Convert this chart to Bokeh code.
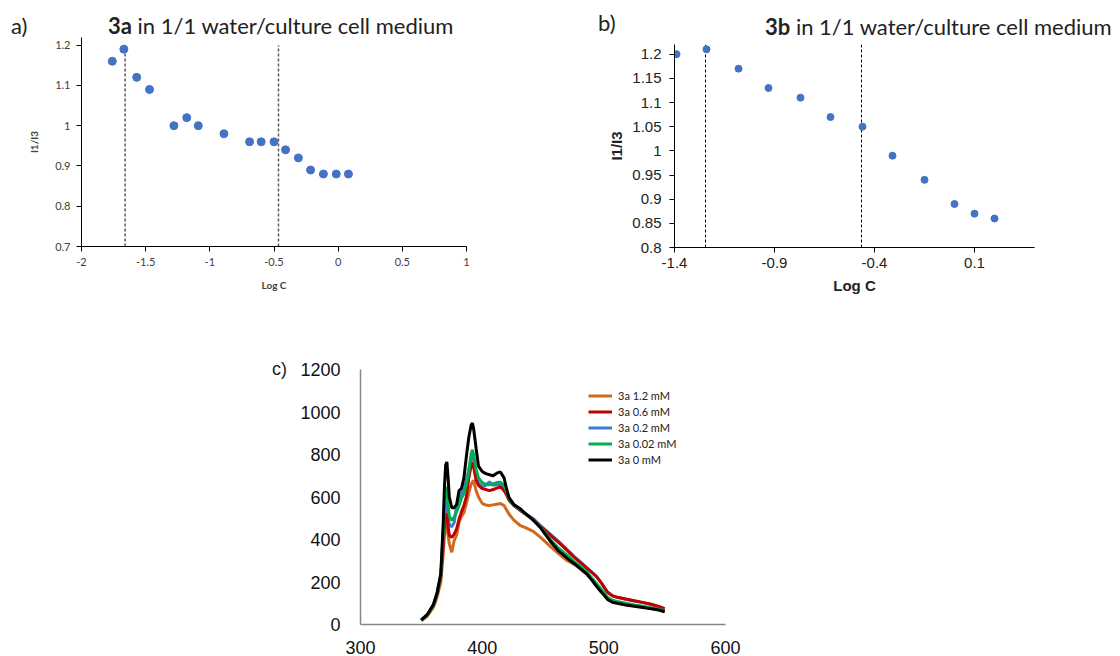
from bokeh.plotting import figure
from bokeh.layouts import column, row
from bokeh.models import Range1d, FixedTicker, CustomJSTickFormatter, Legend, LegendItem, Div
from bokeh.embed import file_html
from bokeh.resources import INLINE

# ---------------- data ----------------
# panel a: 3a, I1/I3 vs log C
a_logc = [-1.76, -1.67, -1.57, -1.47, -1.28, -1.18, -1.09, -0.89, -0.69, -0.60, -0.50,
          -0.41, -0.31, -0.215, -0.115, -0.015, 0.08]
a_ratio = [1.16, 1.19, 1.12, 1.09, 1.00, 1.02, 1.00, 0.98, 0.96, 0.96, 0.96,
           0.94, 0.92, 0.89, 0.88, 0.88, 0.88]
a_breaks = [-1.66, -0.465]
a_xticks = [-2, -1.5, -1, -0.5, 0, 0.5, 1]
a_yticks = [0.7, 0.8, 0.9, 1.0, 1.1, 1.2]

# panel b: 3b, I1/I3 vs log C
b_logc = [-1.39, -1.24, -1.08, -0.93, -0.77, -0.62, -0.46, -0.31, -0.15, 0.0, 0.1, 0.2]
b_ratio = [1.20, 1.21, 1.17, 1.13, 1.11, 1.07, 1.05, 0.99, 0.94, 0.89, 0.87, 0.86]
b_breaks = [-1.245, -0.465]
b_xticks = [-1.4, -0.9, -0.4, 0.1]
b_yticks = [0.8, 0.85, 0.9, 0.95, 1.0, 1.05, 1.1, 1.15, 1.2]

# panel c: emission spectra
wl = [350, 355, 360, 363, 366, 368, 369, 370, 371, 372, 373, 375, 377, 379, 381, 383, 385, 387,
      389, 391, 392, 393, 395, 397, 400, 403, 406, 409, 412, 415, 418, 420, 422, 426, 431, 436,
      442, 448, 456, 463, 470, 476, 481, 486, 490, 494, 498, 500, 503, 507, 511, 518, 525, 532,
      539, 545, 550]
i_12 = [18, 40, 82, 130, 200, 330, 420, 465, 470, 420, 380, 340, 395, 420, 480, 510, 525, 570,
        620, 660, 672, 678, 630, 600, 570, 562, 560, 563, 566, 569, 560, 540, 520, 491, 467, 455,
        438, 410, 368, 332, 300, 282, 260, 236, 212, 183, 155, 143, 122, 108, 103, 95, 88, 82,
        76, 70, 62]
i_06 = [20, 45, 90, 145, 225, 380, 470, 515, 520, 460, 420, 410, 425, 450, 495, 530, 560, 600,
        690, 750, 762, 740, 680, 655, 640, 635, 630, 635, 642, 648, 630, 610, 585, 560, 538, 518,
        494, 460, 420, 385, 348, 315, 290, 265, 245, 225, 195, 177, 152, 135, 128, 120, 112, 104,
        95, 85, 75]
i_02 = [20, 45, 90, 145, 228, 400, 520, 570, 575, 510, 470, 460, 480, 560, 600, 620, 630, 680,
        730, 785, 795, 770, 705, 665, 650, 655, 672, 655, 658, 660, 640, 615, 590, 562, 540, 520,
        498, 465, 425, 390, 352, 318, 293, 268, 248, 226, 196, 178, 153, 136, 128, 119, 111, 103,
        94, 84, 74]
i_002 = [21, 46, 92, 148, 232, 430, 580, 640, 645, 560, 510, 490, 505, 530, 560, 595, 615, 660,
         720, 805, 822, 800, 730, 690, 668, 660, 658, 662, 668, 670, 655, 628, 593, 563, 542, 520,
         493, 458, 400, 358, 325, 295, 272, 246, 220, 193, 165, 152, 128, 114, 108, 100, 92, 86,
         78, 72, 65]
i_0 = [22, 48, 95, 150, 240, 480, 650, 750, 765, 690, 600, 550, 550, 565, 630, 640, 690, 790,
       880, 940, 948, 920, 830, 745, 720, 710, 705, 700, 712, 718, 690, 640, 598, 565, 546, 520,
       491, 455, 392, 345, 311, 285, 262, 238, 210, 180, 152, 140, 118, 105, 100, 92, 86, 80,
       74, 68, 60]
c_labels = ["3a 1.2 mM", "3a 0.6 mM", "3a 0.2 mM", "3a 0.02 mM", "3a 0 mM"]
c_colors = ["#D2691E", "#C00000", "#3B7DD8", "#00B050", "#000000"]
c_xticks = [300, 400, 500, 600]
c_yticks = [0, 200, 400, 600, 800, 1000, 1200]

fmt = CustomJSTickFormatter(code="return String(Math.round(tick*100)/100);")
DOT = "#4472C4"


def span(text, left, top, size, font, extra=""):
    return (f'<span style="position:absolute;left:{left}px;top:{top}px;font-size:{size}px;'
            f'line-height:{size}px;font-family:\'{font}\';color:#222222;white-space:nowrap;{extra}">'
            f'{text}</span>')


def header(width, height, spans):
    html = (f'<div style="position:relative;width:{width}px;height:{height}px;">'
            + "".join(spans) + '</div>')
    return Div(text=html, width=width, height=height, margin=0)


# ---------------- panel a ----------------
pa = figure(width=560, height=283, x_range=Range1d(-2, 1), y_range=Range1d(0.7, 1.219),
            output_backend="svg", toolbar_location=None,
            min_border_left=81, min_border_right=94, min_border_top=0, min_border_bottom=74)
pa.outline_line_color = None
pa.grid.visible = False
pa.segment(x0=a_breaks, x1=a_breaks, y0=[0.7] * 2, y1=[1.2] * 2,
           line_color="#595959", line_dash="3 2", line_width=1.5)
pa.scatter(a_logc, a_ratio, size=8, color=DOT)
for ax in (pa.xaxis[0], pa.yaxis[0]):
    ax.axis_line_color = "#000000"
    ax.major_tick_line_color = "#000000"
    ax.minor_tick_line_color = None
    ax.major_tick_in = 0
    ax.major_tick_out = 5
    ax.major_label_text_font = "Lato"
    ax.major_label_text_font_size = "11px"
    ax.major_label_text_color = "#404040"
    ax.axis_label_text_font = "Lato"
    ax.axis_label_text_font_style = "bold"
    ax.axis_label_text_font_size = "10px"
    ax.axis_label_text_color = "#404040"
    ax.formatter = fmt
pa.xaxis.ticker = FixedTicker(ticks=a_xticks)
pa.yaxis.ticker = FixedTicker(ticks=a_yticks)
pa.xaxis.axis_label = "Log C"
pa.yaxis.axis_label = "I1/I3"
pa.xaxis.major_label_standoff = 6
pa.yaxis.major_label_standoff = 6
pa.xaxis.axis_label_standoff = 10
pa.yaxis.axis_label_standoff = 12
head_a = header(560, 37, [
    span("a)", 11, 15, 22, "Lato"),
    span("<b>3a</b> in 1/1 water/culture cell medium", 108, 15, 22, "Lato"),
])

# ---------------- panel b ----------------
pb = figure(width=560, height=276, x_range=Range1d(-1.4, 0.4), y_range=Range1d(0.8, 1.22),
            output_backend="svg", toolbar_location=None,
            min_border_left=114, min_border_right=86, min_border_top=0, min_border_bottom=73)
pb.outline_line_color = None
pb.grid.visible = False
pb.segment(x0=b_breaks, x1=b_breaks, y0=[0.8] * 2, y1=[1.22] * 2,
           line_color="#000000", line_dash="3 2", line_width=1)
pb.scatter(b_logc, b_ratio, size=7, color=DOT)
for ax in (pb.xaxis[0], pb.yaxis[0]):
    ax.axis_line_color = "#000000"
    ax.major_tick_line_color = "#000000"
    ax.minor_tick_line_color = None
    ax.major_tick_in = 0
    ax.major_tick_out = 5
    ax.major_label_text_font = "Liberation Sans"
    ax.major_label_text_font_size = "15px"
    ax.major_label_text_color = "#222222"
    ax.axis_label_text_font = "Liberation Sans"
    ax.axis_label_text_font_style = "bold"
    ax.axis_label_text_font_size = "15px"
    ax.axis_label_text_color = "#222222"
    ax.formatter = fmt
pb.xaxis.ticker = FixedTicker(ticks=b_xticks)
pb.yaxis.ticker = FixedTicker(ticks=b_yticks)
pb.xaxis.axis_label = "Log C"
pb.yaxis.axis_label = "I1/I3"
pb.xaxis.major_label_standoff = 5
pb.yaxis.major_label_standoff = 8
pb.xaxis.axis_label_standoff = 6
pb.yaxis.axis_label_standoff = 4
head_b = header(560, 44, [
    span("b)", 38, 12, 22, "Lato"),
    span("<b>3b</b> in 1/1 water/culture cell medium", 205, 16, 22, "Lato"),
])

# ---------------- panel c ----------------
pc = figure(width=830, height=336, x_range=Range1d(300, 600), y_range=Range1d(0, 1200),
            output_backend="svg", toolbar_location=None,
            min_border_left=70, min_border_right=395, min_border_top=49, min_border_bottom=32)
pc.outline_line_color = None
pc.grid.visible = False
series = [i_12, i_06, i_02, i_002, i_0]
renderers = {}
for idx in [0, 2, 1, 3, 4]:
    renderers[idx] = pc.line(wl, series[idx], line_color=c_colors[idx], line_width=3)
for ax in (pc.xaxis[0], pc.yaxis[0]):
    ax.axis_line_color = "#868686"
    ax.axis_line_width = 1.5
    ax.major_tick_line_color = None
    ax.minor_tick_line_color = None
    ax.major_label_text_font = "Liberation Sans"
    ax.major_label_text_font_size = "18px"
    ax.major_label_text_color = "#111111"
pc.xaxis.ticker = FixedTicker(ticks=c_xticks)
pc.yaxis.ticker = FixedTicker(ticks=c_yticks)
pc.xaxis.major_label_standoff = 10
pc.yaxis.major_label_standoff = 14
legend = Legend(items=[LegendItem(label=c_labels[i], renderers=[renderers[i]]) for i in range(5)],
                location=(228, 157), orientation="vertical",
                label_text_font="Lato", label_text_font_size="11px", label_text_color="#222222",
                glyph_width=24, glyph_height=15, label_height=15, label_standoff=6,
                spacing=1, padding=0, margin=0,
                border_line_color=None, background_fill_alpha=0)
pc.add_layout(legend)
head_c = header(290, 336, [span("c)", 272, 40, 18, "Liberation Sans")])

layout = column(row(column(head_a, pa), column(head_b, pb)), row(head_c, pc))
open("out.html", "w").write(file_html(layout, INLINE))
